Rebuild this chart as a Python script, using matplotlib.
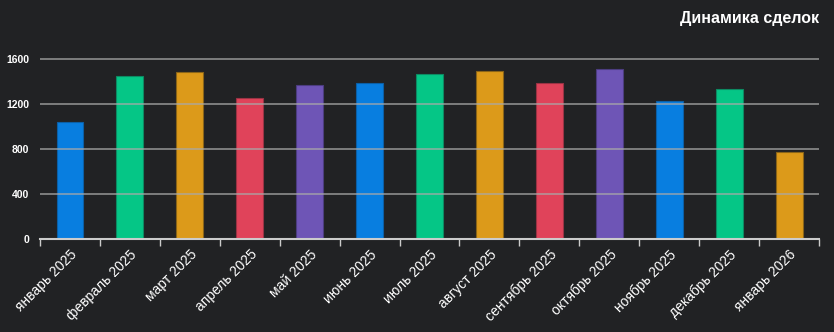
import numpy as np
import matplotlib
matplotlib.use("Agg")
import matplotlib.pyplot as plt

plt.rcParams['font.family'] = ['Liberation Sans', 'DejaVu Sans']

months = ["январь 2025", "февраль 2025", "март 2025", "апрель 2025", "май 2025",
          "июнь 2025", "июль 2025", "август 2025", "сентябрь 2025", "октябрь 2025",
          "ноябрь 2025", "декабрь 2025", "январь 2026"]
deals = [1045, 1448, 1484, 1255, 1368, 1392, 1472, 1493, 1389, 1514, 1228, 1335, 773]

palette = ["#087ee0", "#05c686", "#dc9a1a", "#e0435a", "#6e55b6"]
edges = ["#0b5fa6", "#0d8a62", "#8a6418", "#9a3344", "#4c3d80"]
yticks = [0, 400, 800, 1200, 1600]

bg = "#212224"
fig = plt.figure(figsize=(8.34, 3.32), dpi=100, facecolor=bg)
ax = fig.add_axes([0.048, 0.28, 0.934, 0.609])
ax.set_facecolor(bg)

x = np.arange(len(months))
cols = [palette[i % 5] for i in x]
ecols = [edges[i % 5] for i in x]
ax.bar(x, deals, width=0.45, color=cols, edgecolor=ecols, linewidth=0.8, zorder=2)

ax.set_xlim(-0.5, len(months) - 0.5)
ax.set_ylim(0, 1800)
ax.set_yticks(yticks)
ax.set_yticklabels([str(v) for v in yticks], color="white", fontsize=7.5, fontweight="bold")
for v in yticks[1:]:
    ax.axhline(v, color="#a8a8a8", linewidth=1.2, zorder=3, alpha=0.8)

ax.set_xticks(x)
ax.set_xticklabels(months, rotation=45, ha="right", rotation_mode="anchor",
                   color="white", fontsize=10)
ax.tick_params(axis="x", which="major", length=0, pad=6)
ax.set_xticks(np.arange(-0.5, len(months)), minor=True)
ax.tick_params(axis="x", which="minor", length=5, color="#cccccc", width=1)
ax.tick_params(axis="y", length=0, pad=8)

for s in ["top", "right", "left"]:
    ax.spines[s].set_visible(False)
ax.spines["bottom"].set_color("#cccccc")
ax.spines["bottom"].set_linewidth(1.5)

fig.text(0.982, 0.945, "Динамика сделок", color="white", fontsize=11.5,
         fontweight="bold", ha="right", va="center")

fig.savefig("out.png", dpi=100, facecolor=bg)
